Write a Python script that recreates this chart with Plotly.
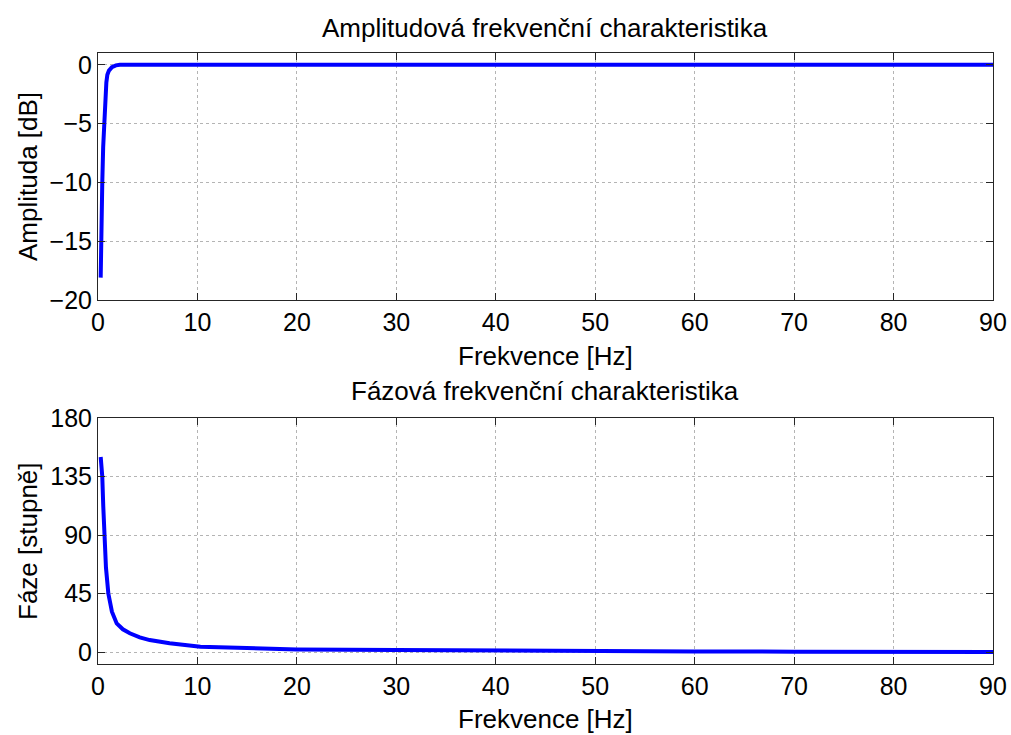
import plotly.graph_objects as go

# Amplitude response
amp_freq = [0.27, 0.37, 0.43, 0.52, 0.6, 0.68, 0.74, 0.84, 0.94, 1.1, 1.4, 1.8, 2.2, 5, 20, 50, 90]
amp_db = [-18.1, -15, -10, -7, -5, -3.5, -2.5, -1.5, -0.85, -0.5, -0.2, -0.05, 0, 0, 0, 0, 0]

# Phase response
ph_freq = [0.27, 0.35, 0.43, 0.53, 0.64, 0.8, 1.04, 1.4, 1.88, 2.5, 3.2, 4.2, 5.2, 7.2,
           10.3, 15, 20, 30, 40, 50, 60, 70, 80, 90]
ph_deg = [150, 143, 135, 112, 90, 65, 45, 31, 22, 17.5, 14.4, 11.3, 9.2, 6.7,
          4.1, 2.8, 2.0, 1.5, 1.0, 0.8, 0.5, 0.3, 0.2, 0.0]

x_ticks = [0, 10, 20, 30, 40, 50, 60, 70, 80, 90]
amp_ticks = [-20, -15, -10, -5, 0]
ph_ticks = [0, 45, 90, 135, 180]

W, H = 1011, 735
FONT = "Liberation Sans, Arial, sans-serif"
FS = 25
FL = 26
BLUE = "#0000ff"

fig = go.Figure()
fig.add_trace(go.Scatter(x=amp_freq, y=amp_db, mode="lines",
                         line=dict(color=BLUE, width=4), xaxis="x", yaxis="y",
                         showlegend=False))
fig.add_trace(go.Scatter(x=ph_freq, y=ph_deg, mode="lines",
                         line=dict(color=BLUE, width=4), xaxis="x2", yaxis="y2",
                         showlegend=False))

xd = [98 / W, 993 / W]
axis_common = dict(
    automargin=False,
    showline=True, linecolor="#262626", linewidth=1, mirror="ticks",
    ticks="inside", ticklen=7, tickcolor="#262626", tickwidth=1,
    showgrid=True, gridcolor="#b4b4b4", griddash="dot", gridwidth=1,
    zeroline=False, tickfont=dict(family=FONT, size=FS, color="#000"),
)

fig.update_layout(
    width=W, height=H, margin=dict(l=0, r=0, t=0, b=0, autoexpand=False),
    paper_bgcolor="white", plot_bgcolor="white",
    font=dict(family=FONT, size=FS, color="#000"),
    xaxis=dict(domain=xd, range=[0, 90], tickvals=x_ticks, anchor="y", **axis_common),
    yaxis=dict(domain=[(H - 300) / H, (H - 53) / H], range=[-20, 1], tickvals=amp_ticks,
               anchor="x", **axis_common),
    xaxis2=dict(domain=xd, range=[0, 90], tickvals=x_ticks, anchor="y2", **axis_common),
    yaxis2=dict(domain=[(H - 664) / H, (H - 418) / H], range=[-9.2, 180], tickvals=ph_ticks,
                anchor="x2", **axis_common),
)

def ann(text, x, y, angle=0):
    fig.add_annotation(text=text, x=x / W, y=1 - y / H, xref="paper", yref="paper",
                       showarrow=False, textangle=angle,
                       font=dict(family=FONT, size=FL, color="#000"),
                       xanchor="center", yanchor="middle")

ann("Amplitudová frekvenční charakteristika", 545, 28)
ann("Frekvence [Hz]", 545, 356)
ann("Amplituda [dB]", 28, 177, -90)
ann("Fázová frekvenční charakteristika", 545, 391)
ann("Frekvence [Hz]", 545, 719)
ann("Fáze [stupně]", 28, 541, -90)

fig.write_html("out.html")
